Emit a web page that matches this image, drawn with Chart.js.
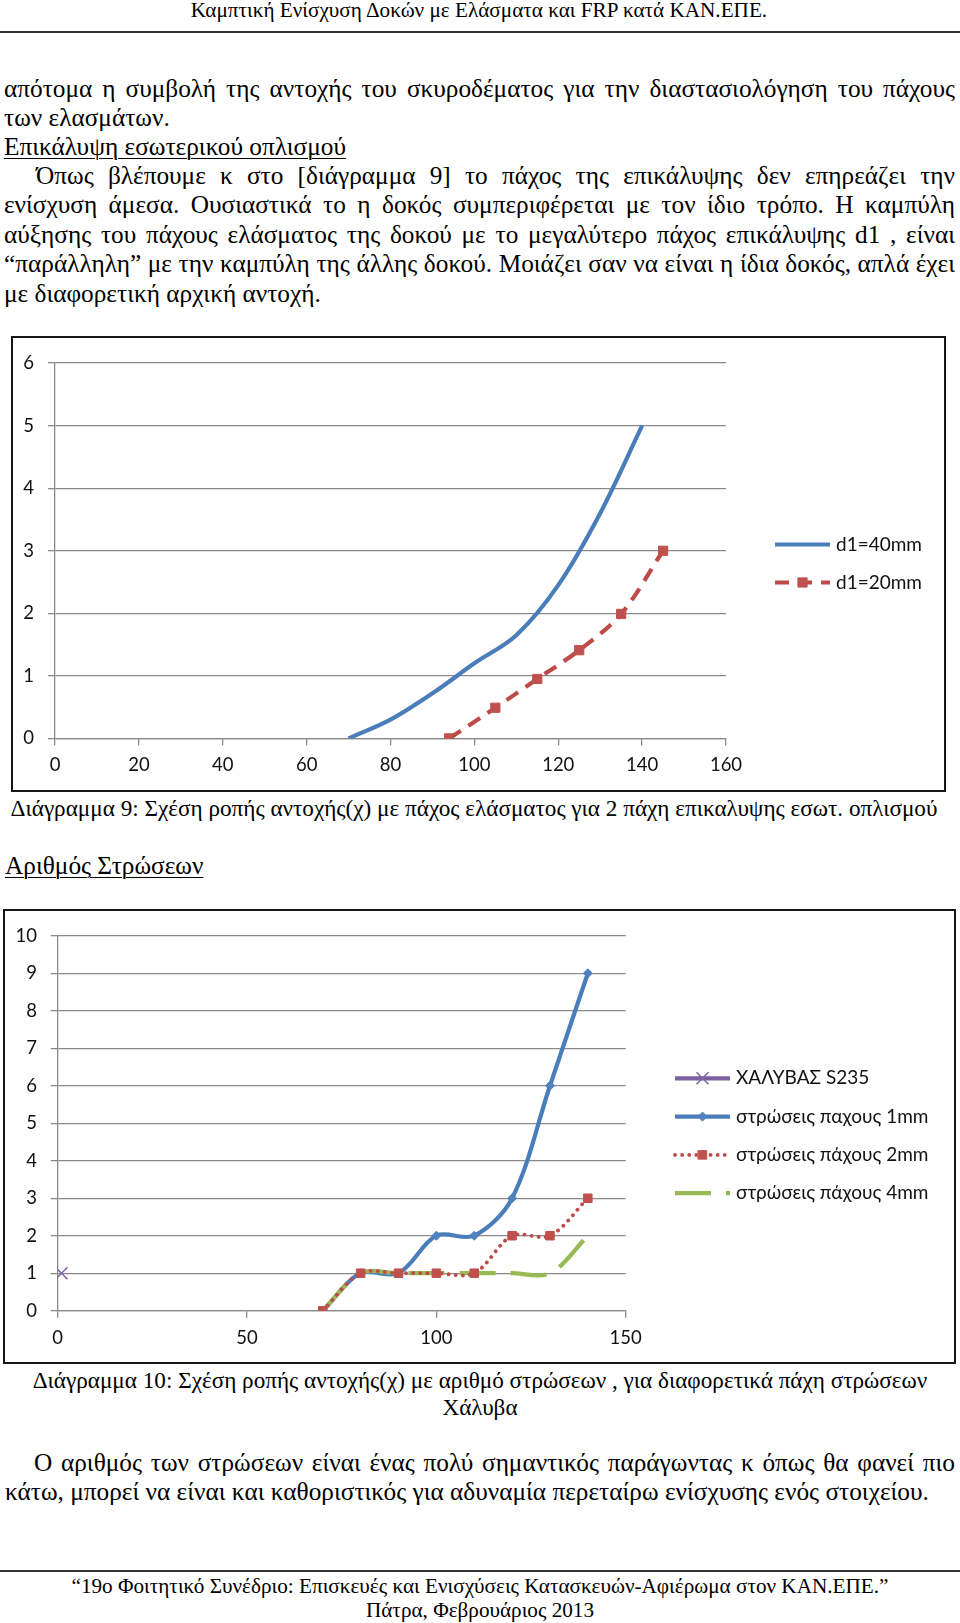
<!DOCTYPE html>
<html lang="el">
<head>
<meta charset="utf-8">
<title>Διάγραμμα 9 - 10</title>
<script src="https://cdn.jsdelivr.net/npm/chart.js@4.4.1/dist/chart.umd.min.js"></script>
<style>
  html, body { margin: 0; padding: 0; background: #fff; }
  body { width: 960px; height: 1623px; position: relative; overflow: hidden;
         font-family: "Liberation Serif", "Times New Roman", serif; color: #000; }
  .ln { position: absolute; white-space: nowrap; font-size: 25.3px; line-height: 29px; }
  .cap { font-size: 23.2px; }
  .small { font-size: 21.2px; }
  .just { text-align: justify; text-align-last: justify; white-space: normal; }
  .ctr { text-align: center; }
  .u { text-decoration: underline; text-decoration-thickness: 1px; text-underline-offset: 3px; }
  .rule { position: absolute; left: 0; width: 960px; height: 2px; background: #333; }
  .frame { position: absolute; border: 2px solid #161616; box-sizing: border-box; }
  .frame canvas { position: absolute; left: 0; top: 0; }
</style>
</head>
<body>

<div class="ln ctr small" style="left:0;width:958px;top:-4px;">Καμπτική Ενίσχυση Δοκών με Ελάσματα και FRP κατά ΚΑΝ.ΕΠΕ.</div>
<div class="rule" style="top:31px;"></div>

<div class="ln just" style="left:4px;width:951px;top:74px;">απότομα η συμβολή της αντοχής του σκυροδέματος για την διαστασιολόγηση του πάχους</div>
<div class="ln" style="left:4px;top:103px;">των ελασμάτων.</div>
<div class="ln u" style="left:4px;top:132px;">Επικάλυψη εσωτερικού οπλισμού</div>
<div class="ln just" style="left:36px;width:919px;top:161px;">Όπως βλέπουμε κ στο [διάγραμμα 9] το πάχος της επικάλυψης δεν επηρεάζει την</div>
<div class="ln just" style="left:4px;width:951px;top:190px;">ενίσχυση άμεσα. Ουσιαστικά το η δοκός συμπεριφέρεται με τον ίδιο τρόπο. Η καμπύλη</div>
<div class="ln just" style="left:4px;width:951px;top:220px;">αύξησης του πάχους ελάσματος της δοκού με το μεγαλύτερο πάχος επικάλυψης d1 , είναι</div>
<div class="ln just" style="left:4px;width:951px;top:249px;">“παράλληλη” με την καμπύλη της άλλης δοκού. Μοιάζει σαν να είναι η ίδια δοκός, απλά έχει</div>
<div class="ln" style="left:4px;top:279px;">με διαφορετική αρχική αντοχή.</div>

<div class="frame" style="left:11px;top:336px;width:935px;height:456px;">
  <canvas id="chart9" width="931" height="452"></canvas>
</div>

<div class="ln ctr cap" style="left:0;width:948px;top:794px;">Διάγραμμα 9: Σχέση ροπής αντοχής(χ) με πάχος ελάσματος για 2 πάχη επικαλυψης εσωτ. οπλισμού</div>
<div class="ln u" style="left:5px;top:851px;">Αριθμός Στρώσεων</div>

<div class="frame" style="left:3px;top:909px;width:953px;height:455px;">
  <canvas id="chart10" width="949" height="451"></canvas>
</div>

<div class="ln ctr cap" style="left:0;width:960px;top:1366px;">Διάγραμμα 10: Σχέση ροπής αντοχής(χ) με αριθμό στρώσεων , για διαφορετικά πάχη στρώσεων</div>
<div class="ln ctr cap" style="left:0;width:960px;top:1393px;">Χάλυβα</div>

<div class="ln just" style="left:34px;width:921px;top:1448px;">Ο αριθμός των στρώσεων είναι ένας πολύ σημαντικός παράγωντας κ όπως θα φανεί πιο</div>
<div class="ln" style="left:5px;top:1477px;">κάτω, μπορεί να είναι και καθοριστικός για αδυναμία περεταίρω ενίσχυσης ενός στοιχείου.</div>

<div class="rule" style="top:1570px;"></div>
<div class="ln ctr small" style="left:0;width:960px;top:1572px;">“19ο Φοιτητικό Συνέδριο: Επισκευές και Ενισχύσεις Κατασκευών-Αφιέρωμα στον ΚΑΝ.ΕΠΕ.”</div>
<div class="ln ctr small" style="left:0;width:960px;top:1596px;">Πάτρα, Φεβρουάριος 2013</div>

<script>
// ---- Διάγραμμα 9 ----
const d9xTicks = [0, 20, 40, 60, 80, 100, 120, 140, 160];
const d9yTicks = [0, 1, 2, 3, 4, 5, 6];
const d40x = [70, 80, 90, 100, 110, 120, 130, 140];
const d40y = [0, 0.3, 0.72, 1.2, 1.65, 2.45, 3.6, 5];
const d20x = [94, 105, 115, 125, 135, 145];
const d20y = [0, 0.49, 0.95, 1.41, 1.99, 3];

// ---- Διάγραμμα 10 ----
const d10xTicks = [0, 50, 100, 150];
const d10yTicks = [0, 1, 2, 3, 4, 5, 6, 7, 8, 9, 10];
const steelX = [1];
const steelY = [1];
const layerX = [70, 80, 90, 100, 110, 120, 130, 140];
const t1mm = [0, 1, 1, 2, 2, 3, 6, 9];
const t2mm = [0, 1, 1, 1, 1, 2, 2, 3];
const t4mm = [0, 1, 1, 1, 1, 1, 1, 2];

const FONT = 'Lato, "Open Sans", sans-serif';
const gridGray = '#8a8a8a';
const xy = (xs, ys) => xs.map((x, i) => ({ x: x, y: ys[i] }));

// legend drawn the way Excel does it: line sample with the marker in the middle
const excelLegend = {
  id: 'excelLegend',
  afterDraw(chart, args, o) {
    const ctx = chart.ctx;
    chart.data.datasets.forEach((ds, i) => {
      const y = o.top + i * o.step;
      ctx.save();
      ctx.strokeStyle = ds.borderColor;
      ctx.lineWidth = ds.borderWidth;
      ctx.lineCap = ds.borderCapStyle || 'butt';
      ctx.setLineDash(ds.borderDash || []);
      ctx.beginPath();
      ctx.moveTo(o.x0, y);
      ctx.lineTo(o.x1, y);
      ctx.stroke();
      ctx.setLineDash([]);
      if (ds.pointRadius > 0) {
        ctx.fillStyle = ds.pointBackgroundColor;
        ctx.strokeStyle = ds.pointBorderColor;
        ctx.lineWidth = ds.pointBorderWidth;
        Chart.helpers.drawPoint(ctx, {
          pointStyle: ds.pointStyle, radius: ds.pointRadius,
          rotation: 0, borderWidth: ds.pointBorderWidth
        }, (o.x0 + o.x1) / 2, y);
      }
      ctx.fillStyle = '#111';
      ctx.font = o.font;
      ctx.textAlign = 'left';
      ctx.textBaseline = 'middle';
      ctx.fillText(ds.label, o.textX, y);
      ctx.restore();
    });
  }
};

function axes(xTicks, yTicks, yWidth, xHeight, yPad) {
  return {
    x: {
      type: 'linear', min: xTicks[0], max: xTicks[xTicks.length - 1],
      afterBuildTicks: s => { s.ticks = xTicks.map(v => ({ value: v })); },
      afterFit: s => { s.height = xHeight; },
      grid: { drawOnChartArea: false, drawTicks: true, tickLength: 7, color: gridGray, lineWidth: 1.3 },
      border: { color: gridGray, width: 1.3 },
      ticks: { color: '#111', font: { family: FONT, size: 18.5 }, padding: 9, maxRotation: 0 }
    },
    y: {
      min: yTicks[0], max: yTicks[yTicks.length - 1],
      afterBuildTicks: s => { s.ticks = yTicks.map(v => ({ value: v })); },
      afterFit: s => { s.width = yWidth; },
      grid: { color: gridGray, lineWidth: 1.3, tickLength: 7 },
      border: { color: gridGray, width: 1.3 },
      ticks: { color: '#111', font: { family: FONT, size: 18.5 }, padding: yPad }
    }
  };
}

new Chart(document.getElementById('chart9'), {
  type: 'line',
  data: {
    datasets: [{
      label: 'd1=40mm',
      data: xy(d40x, d40y),
      borderColor: '#4A7EBB', borderWidth: 4.2, tension: 0.33,
      pointRadius: 0, pointStyle: 'circle'
    }, {
      label: 'd1=20mm',
      data: xy(d20x, d20y),
      borderColor: '#BE4B48', borderWidth: 4.2, tension: 0.33,
      borderDash: [14, 9],
      pointStyle: 'rect', pointRadius: 6.5,
      pointBackgroundColor: '#C0504D', pointBorderColor: '#C0504D', pointBorderWidth: 1
    }]
  },
  options: {
    responsive: false, animation: false, devicePixelRatio: 1,
    layout: { padding: { left: 0, right: 218, top: 21.4, bottom: 0 } },
    scales: axes(d9xTicks, d9yTicks, 42, 51.6, 14),
    plugins: {
      legend: { display: false }, tooltip: { enabled: false },
      excelLegend: { x0: 762, x1: 817, textX: 823, top: 206.5, step: 38, font: '19px ' + FONT }
    }
  },
  plugins: [excelLegend]
});

new Chart(document.getElementById('chart10'), {
  type: 'line',
  data: {
    datasets: [{
      label: 'ΧΑΛΥΒΑΣ S235',
      data: xy(steelX, steelY),
      borderColor: '#7D60A0', borderWidth: 4.2, order: 3,
      pointStyle: 'crossRot', pointRadius: 8.5,
      pointBackgroundColor: '#8064A2', pointBorderColor: '#8064A2', pointBorderWidth: 1.5
    }, {
      label: 'στρώσεις παχους 1mm',
      data: xy(layerX, t1mm),
      borderColor: '#4A7EBB', borderWidth: 4.2, tension: 0.33, order: 2,
      pointStyle: 'rectRot', pointRadius: 4.5,
      pointBackgroundColor: '#4F81BD', pointBorderColor: '#4F81BD', pointBorderWidth: 1
    }, {
      label: 'στρώσεις πάχους 2mm',
      data: xy(layerX, t2mm),
      borderColor: '#BE4B48', borderWidth: 3.8, tension: 0.33, order: 0,
      borderDash: [0.1, 7], borderCapStyle: 'round',
      pointStyle: 'rect', pointRadius: 6,
      pointBackgroundColor: '#C0504D', pointBorderColor: '#C0504D', pointBorderWidth: 1
    }, {
      label: 'στρώσεις πάχους 4mm',
      data: xy(layerX, t4mm),
      borderColor: '#98B954', borderWidth: 4.2, tension: 0.33, order: 1,
      borderDash: [36, 15],
      pointRadius: 0
    }]
  },
  options: {
    responsive: false, animation: false, devicePixelRatio: 1,
    layout: { padding: { left: 0, right: 328.3, top: 20.7, bottom: 0 } },
    scales: axes(d10xTicks, d10yTicks, 52.7, 51.3, 13.7),
    plugins: {
      legend: { display: false }, tooltip: { enabled: false },
      excelLegend: { x0: 670, x1: 725, textX: 731, top: 167.3, step: 38.3, font: '19px ' + FONT }
    }
  },
  plugins: [excelLegend]
});
</script>
</body>
</html>
